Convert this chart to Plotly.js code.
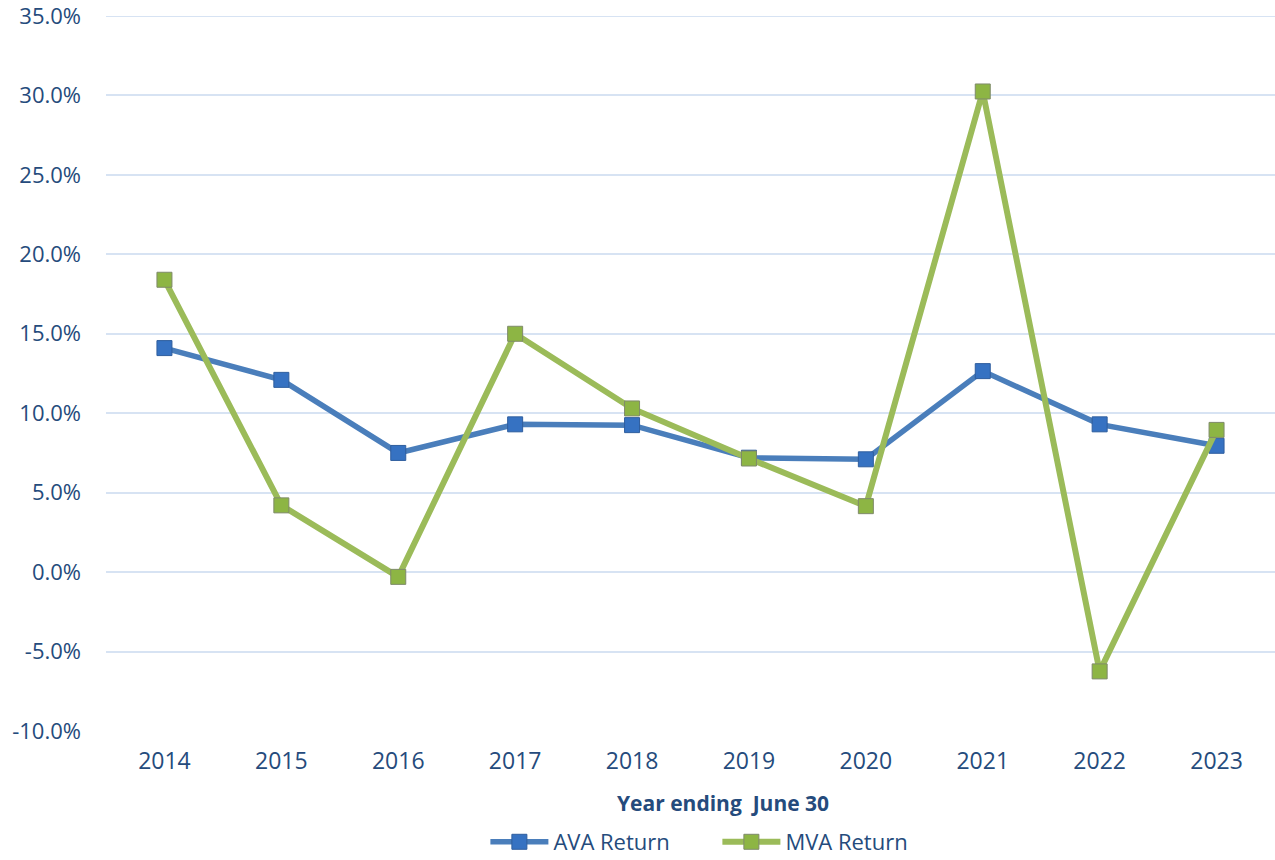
<!DOCTYPE html>
<html>
<head>
<meta charset="utf-8">
<script src="https://cdn.plot.ly/plotly-3.0.1.min.js"></script>
<style>html,body{margin:0;padding:0;background:#fff;}#chart{width:1275px;height:860px;}</style>
</head>
<body>
<div id="chart"></div>
<script>
const years = ["2014","2015","2016","2017","2018","2019","2020","2021","2022","2023"];
const avaReturn = [14.1, 12.1, 7.5, 9.3, 9.25, 7.2, 7.1, 12.65, 9.3, 7.95];
const mvaReturn = [18.4, 4.2, -0.3, 15.0, 10.3, 7.15, 4.15, 30.25, -6.25, 8.95];
const yTicks = [-10, -5, 0, 5, 10, 15, 20, 25, 30, 35];

const textColor = "#254B7C";
const fontFam = "'Open Sans', 'DejaVu Sans', sans-serif";
const gridColor = "#D7E3F3";

const traces = [
  {
    x: years, y: avaReturn, name: "AVA Return", type: "scatter", mode: "lines+markers",
    line: {color: "#4A7EBB", width: 5.5},
    marker: {symbol: "square", size: 15, color: "#3672C2", line: {color: "#2F5E9E", width: 1}}
  },
  {
    x: years, y: mvaReturn, name: "MVA Return", type: "scatter", mode: "lines+markers",
    line: {color: "#9BBB59", width: 6},
    marker: {symbol: "square", size: 15, color: "#8DB544", line: {color: "#7F8A6A", width: 1}}
  }
];

const yMax = yTicks[yTicks.length - 1];

const layout = {
  width: 1275, height: 860,
  margin: {l: 106, r: 0, t: 16, b: 129, autoexpand: false},
  paper_bgcolor: "#ffffff", plot_bgcolor: "#ffffff",
  font: {family: fontFam, color: textColor, size: 22},
  showlegend: true,
  legend: {
    orientation: "h", x: 0.523, xanchor: "center", y: -0.1846, yanchor: "bottom",
    font: {family: fontFam, color: textColor, size: 22},
    itemwidth: 58, traceorder: "normal", entrywidth: 159, borderwidth: 0
  },
  xaxis: {
    type: "category", range: [-0.5, 9.5],
    showgrid: false, zeroline: false, showline: false,
    ticks: "", ticklabelstandoff: 14,
    tickfont: {family: fontFam, color: textColor, size: 23},
    fixedrange: true
  },
  yaxis: {
    range: [-10.001, 35.001], tickvals: yTicks,
    ticktext: yTicks.map(v => v.toFixed(1) + "%"),
    showgrid: true, gridcolor: gridColor, gridwidth: 2,
    zeroline: false, showline: false, ticks: "",
    ticklabelstandoff: 24, ticklabeloverflow: "allow",
    tickfont: {family: fontFam, color: textColor, size: 22},
    fixedrange: true
  },
  shapes: [{
    type: "line", xref: "paper", yref: "y", x0: 0, x1: 1, y0: yMax, y1: yMax,
    line: {color: gridColor, width: 2}, layer: "below"
  }],
  annotations: [{
    text: "<b>Year ending  June 30</b>", xref: "paper", yref: "paper",
    x: 0.528, y: -0.10, xanchor: "center", yanchor: "middle", showarrow: false,
    font: {family: fontFam, color: textColor, size: 21}
  }]
};

Plotly.newPlot("chart", traces, layout, {displayModeBar: false, staticPlot: true});
</script>
</body>
</html>
